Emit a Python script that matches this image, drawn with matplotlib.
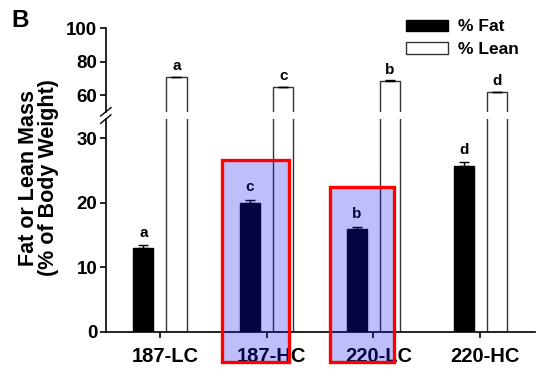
import matplotlib
matplotlib.use("Agg")
import matplotlib.pyplot as plt
from matplotlib.patches import Rectangle, Patch
from matplotlib.transforms import ScaledTranslation
import numpy as np

plt.rcParams['font.family'] = ['Liberation Sans', 'DejaVu Sans']
plt.rcParams['font.weight'] = 'bold'

categories = ["187-LC", "187-HC", "220-LC", "220-HC"]
fat = [13.0, 20.0, 16.0, 25.7]
fat_err = [0.5, 0.5, 0.35, 0.6]
lean = [70.7, 64.8, 68.4, 61.8]
lean_err = [0.3, 0.3, 0.3, 0.3]
fat_letters = ["a", "c", "b", "d"]
lean_letters = ["a", "c", "b", "d"]
highlight = ["187-HC", "220-LC"]
highlight_top = [26.7, 22.5]

x = np.arange(len(categories))
w = 0.19
off = 0.155

fig = plt.figure(figsize=(5.37, 3.69), dpi=100)
ax_lo = fig.add_axes([0.197, 0.1003, 0.80, 0.577])
ax_hi = fig.add_axes([0.197, 0.697, 0.80, 0.227])

for ax in (ax_lo, ax_hi):
    ax.bar(x - off, fat, w, color='black', edgecolor='black', lw=1, zorder=2)
    ax.bar(x + off, lean, w, color='white', edgecolor='#333333', lw=1.0, zorder=2)
    ax.errorbar(x - off, fat, yerr=[[0]*4, fat_err], fmt='none', ecolor='black',
                elinewidth=1, capsize=3.5, capthick=1, zorder=3)
    ax.errorbar(x + off, lean, yerr=[[0]*4, lean_err], fmt='none', ecolor='black',
                elinewidth=1, capsize=3.5, capthick=1, zorder=3)
    ax.set_xlim(-0.506, 3.516)
    ax.spines['top'].set_visible(False)
    ax.spines['right'].set_visible(False)
    ax.spines['left'].set_linewidth(1.2)
    ax.tick_params(axis='y', direction='out', length=4, width=1.2, pad=2)

ax_lo.set_ylim(0, 33)
ax_lo.set_yticks([0, 10, 20, 30])
ax_lo.set_xticks(x)
ax_lo.set_xticklabels(categories, fontsize=14.5, fontweight='bold')
ax_lo.tick_params(axis='x', direction='out', length=4, width=1.2, pad=7)
ax_lo.spines['bottom'].set_linewidth(1.2)
shift = ScaledTranslation(5 / 100, 0, fig.dpi_scale_trans)
for lab in ax_lo.get_xticklabels():
    lab.set_transform(lab.get_transform() + shift)

ax_hi.set_ylim(50, 100)
ax_hi.set_yticks([60, 80, 100])
ax_hi.spines['bottom'].set_visible(False)
ax_hi.set_xticks([])

for ax in (ax_lo, ax_hi):
    ax.set_yticklabels([str(int(t)) for t in ax.get_yticks()], fontweight='bold', fontsize=13.5)

# letters
for i in range(len(categories)):
    ax_lo.annotate(fat_letters[i], (x[i] - off, fat[i] + fat_err[i]), xytext=(0, 6),
                   textcoords='offset points', ha='center', va='baseline',
                   fontsize=11, fontweight='bold', zorder=4)
    ax_hi.annotate(lean_letters[i], (x[i] + off, lean[i] + lean_err[i]), xytext=(0, 5),
                   textcoords='offset points', ha='center', va='baseline',
                   fontsize=11, fontweight='bold', zorder=4)

# break marks
ax_hi.plot([-0.012, 0.012], [-0.05, 0.05], transform=ax_hi.transAxes,
           color='black', lw=1, clip_on=False)
ax_lo.plot([-0.012, 0.012], [0.98, 1.02], transform=ax_lo.transAxes,
           color='black', lw=1, clip_on=False)

# legend
handles = [Patch(facecolor='black', edgecolor='black', label='% Fat'),
           Patch(facecolor='white', edgecolor='#333333', label='% Lean')]
fig.legend(handles=handles, loc='upper left', bbox_to_anchor=(0.727, 0.99),
           frameon=False, handlelength=2.4, handleheight=0.6, handletextpad=0.6,
           labelspacing=0.45, prop={'weight': 'bold', 'size': 12.5})

# highlight boxes
hl_span = [(-0.42, 0.21), (-0.41, 0.19)]
for name, top, (l, r) in zip(highlight, highlight_top, hl_span):
    i = categories.index(name)
    ax_lo.add_patch(Rectangle((x[i] + l, -4.7), r - l, top + 4.7, facecolor='#1010ee',
                              alpha=0.27, edgecolor='none', clip_on=False, zorder=10))
    ax_lo.add_patch(Rectangle((x[i] + l, -4.7), r - l, top + 4.7, facecolor='none',
                              edgecolor='#ff0000', lw=2.4, clip_on=False, zorder=11))

fig.text(0.071, 0.518, "Fat or Lean Mass\n(% of Body Weight)", rotation=90,
         ha='center', va='center', fontsize=15.5, fontweight='bold', linespacing=0.95)
fig.text(0.022, 0.975, "B", fontsize=17.5, fontweight='bold', ha='left', va='top')

fig.savefig("out.png", dpi=100)
